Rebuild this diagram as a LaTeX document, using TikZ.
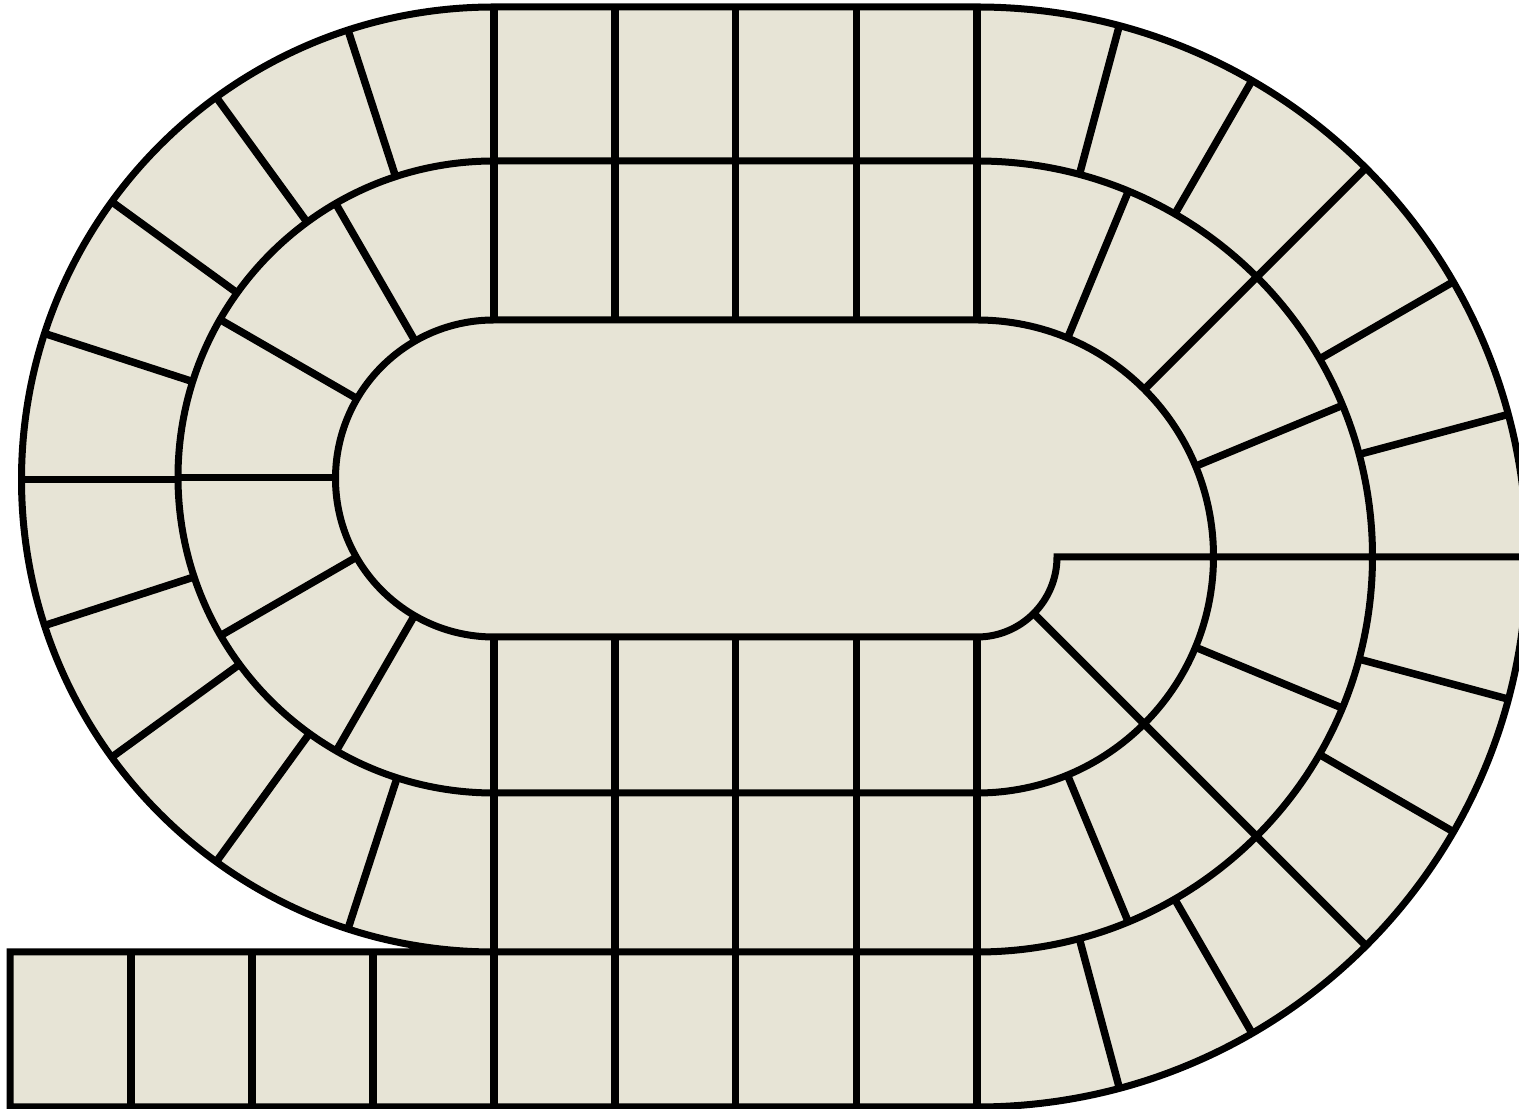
\documentclass[tikz,border=0pt]{standalone}
\usetikzlibrary{calc}
\begin{document}
\begin{tikzpicture}[x=1pt,y=1pt,
  boardline/.style={line width=7pt, draw=black},
  divider/.style={line width=7.5pt, draw=black}]
\definecolor{boardfill}{RGB}{231,228,214}
\useasboundingbox (0,0) rectangle (1519,1109);
\clip (0,0) rectangle (1519,1109);
\fill[white] (0,0) rectangle (1519,1109);
% centres of the curved ends
\coordinate (RC) at (977,552.25);
\coordinate (LC1) at (494,629.5);
\coordinate (LC2) at (494,631.25);
% board fill
\fill[boardfill] (10,2) -- (977,2) arc[start angle=-90,end angle=90,radius=550]
  -- (494,1102) arc[start angle=90,end angle=270,radius=472.5] -- (10,157) -- cycle;
% straight dividers
\foreach \x in {494,614.75,735.5,856.25,977} {
  \draw[divider] (\x,789) -- (\x,1102);
  \draw[divider] (\x,2) -- (\x,472);
}
\foreach \x in {131,252,373} \draw[divider] (\x,2) -- (\x,157);
% right end, outer ring
\foreach \a in {75,60,45,30,15,-15,-30,-45,-60,-75}
  \draw[divider] ($(RC)+(\a:395.5)$) -- ($(RC)+(\a:550)$);
% right end, middle ring
\foreach \a in {67.5,45,22.5,-22.5,-45,-67.5}
  \draw[divider] ($(RC)+(\a:236.5)$) -- ($(RC)+(\a:395.5)$);
% right end, inner ring
\draw[divider] ($(RC)+(-45:80)$) -- ($(RC)+(-45:236.5)$);
% left end, outer ring
\foreach \a in {108,126,144,162,180,198,216,234,252}
  \draw[divider] ($(LC1)+(\a:316)$) -- ($(LC1)+(\a:472.5)$);
% left end, middle ring
\foreach \a in {120,150,180,210,240}
  \draw[divider] ($(LC2)+(\a:158.5)$) -- ($(LC2)+(\a:316)$);
% outline
\draw[boardline] (10,2) -- (977,2) arc[start angle=-90,end angle=90,radius=550]
  -- (494,1102) arc[start angle=90,end angle=270,radius=472.5] -- (10,157) -- cycle;
% spiral track boundary
\draw[boardline] (494,157) -- (977,157) arc[start angle=-90,end angle=90,radius=395.5]
  -- (494,948) arc[start angle=90,end angle=270,radius=316]
  -- (977,316) arc[start angle=-90,end angle=90,radius=236.5]
  -- (494,789) arc[start angle=90,end angle=270,radius=158.5]
  -- (977,472) arc[start angle=-90,end angle=0,radius=80]
  -- (1530,552.25);
\end{tikzpicture}
\end{document}
